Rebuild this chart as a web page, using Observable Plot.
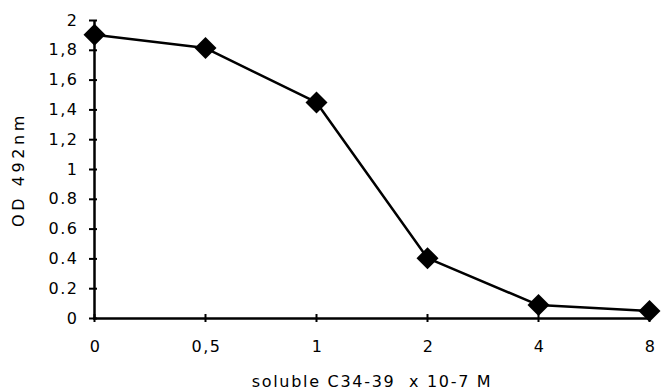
<!DOCTYPE html>
<html>
<head>
<meta charset="utf-8">
<script src="https://cdn.jsdelivr.net/npm/d3@7"></script>
<script src="https://cdn.jsdelivr.net/npm/@observablehq/plot@0.6"></script>
<style>
  html, body { margin: 0; padding: 0; background: #fff; }
  #chart svg { display: block; }
  #chart svg text { letter-spacing: 1.5px; }
  #chart g[aria-label="x-axis label"] text { letter-spacing: 1.7px; }
  #chart g[aria-label="y-axis label"] text { letter-spacing: 3.6px; }
</style>
</head>
<body>
<div id="chart"></div>
<script>
const concentrations = ["0", "0,5", "1", "2", "4", "8"];
const od492 = [1.905, 1.815, 1.45, 0.405, 0.09, 0.05];
const yTickValues = [0, 0.2, 0.4, 0.6, 0.8, 1, 1.2, 1.4, 1.6, 1.8, 2];
const yTickLabels = ["0", "0.2", "0.4", "0.6", "0.8", "1", "1,2", "1,4", "1,6", "1,8", "2"];
const xTitle = "soluble C34-39\u00a0\u00a0x 10-7 M";
const yTitle = "OD 492nm";

const data = concentrations.map((c, i) => ({c, v: od492[i]}));
const font = "'DejaVu Sans', Verdana, sans-serif";

const chart = Plot.plot({
  width: 662,
  height: 390,
  marginLeft: 93,
  marginRight: 12,
  marginTop: 20,
  marginBottom: 72,
  style: {fontFamily: font, fontSize: "16px", color: "#000", background: "#fff"},
  x: {type: "point", domain: concentrations, padding: 0},
  y: {domain: [0, 2]},
  marks: [
    Plot.axisY({ticks: yTickValues, tickSize: 8, dx: 4, tickFormat: () => "", strokeWidth: 2, label: null}),
    Plot.axisY({ticks: yTickValues, tickSize: 0, tickPadding: 15, fontSize: 16,
      tickFormat: (d) => yTickLabels[yTickValues.indexOf(d)],
      label: yTitle, labelAnchor: "center", labelArrow: "none", labelOffset: 81}),
    Plot.axisX({tickSize: 8, dy: -4, tickFormat: () => "", strokeWidth: 2, label: null}),
    Plot.axisX({tickSize: 0, tickPadding: 22, fontSize: 16, dx: 1, label: xTitle, labelAnchor: "center", labelArrow: "none", labelOffset: 68}),
    Plot.ruleX([concentrations[0]], {strokeWidth: 2.5}),
    Plot.ruleY([0], {strokeWidth: 2.5}),
    Plot.line(data, {x: "c", y: "v", stroke: "#000", strokeWidth: 2.5}),
    Plot.dot(data, {x: "c", y: "v", symbol: "diamond2", r: 9.9, fill: "#000", stroke: "none"})
  ]
});
document.getElementById("chart").append(chart);
</script>
</body>
</html>
